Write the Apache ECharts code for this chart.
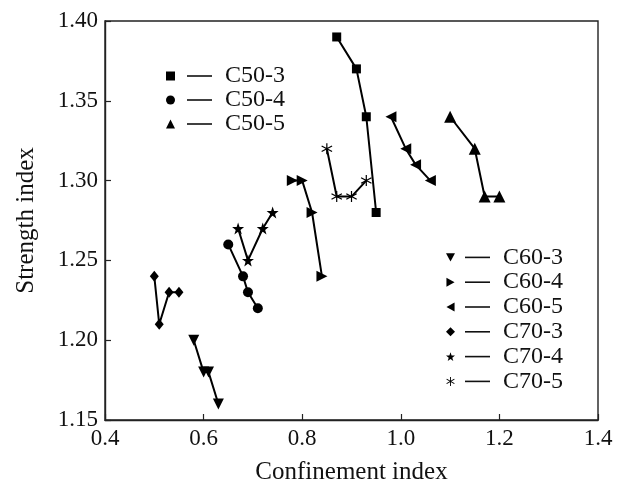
<!DOCTYPE html>
<html>
<head>
<meta charset="utf-8">
<script src="https://cdn.jsdelivr.net/npm/echarts@6/dist/echarts.min.js"></script>
<style>
  html, body { margin: 0; padding: 0; background: #fff; }
  #chart { width: 624px; height: 490px; }
</style>
</head>
<body>
<div id="chart"></div>
<script>
// Confinement index / strength index pairs, one list per specimen group
const seriesNames = ['C50-3', 'C50-4', 'C50-5', 'C60-3', 'C60-4', 'C60-5', 'C70-3', 'C70-4', 'C70-5'];

const c50_3 = [[0.87, 1.39], [0.91, 1.37], [0.93, 1.34], [0.95, 1.28]];
const c50_4 = [[0.65, 1.26], [0.68, 1.24], [0.69, 1.23], [0.71, 1.22]];
const c50_5 = [[1.10, 1.34], [1.15, 1.32], [1.17, 1.29], [1.20, 1.29]];
const c60_3 = [[0.58, 1.20], [0.60, 1.18], [0.61, 1.18], [0.63, 1.16]];
const c60_4 = [[0.78, 1.30], [0.80, 1.30], [0.82, 1.28], [0.84, 1.24]];
const c60_5 = [[0.98, 1.34], [1.01, 1.32], [1.03, 1.31], [1.06, 1.30]];
const c70_3 = [[0.50, 1.24], [0.51, 1.21], [0.53, 1.23], [0.55, 1.23]];
const c70_4 = [[0.67, 1.27], [0.69, 1.25], [0.72, 1.27], [0.74, 1.28]];
const c70_5 = [[0.85, 1.32], [0.87, 1.29], [0.90, 1.29], [0.93, 1.30]];

const seriesData = [c50_3, c50_4, c50_5, c60_3, c60_4, c60_5, c70_3, c70_4, c70_5];

// Marker shapes
const TRI_DOWN = 'path://M0 0L10 0L5 9Z';
const TRI_RIGHT = 'path://M0 0L9 5L0 10Z';
const TRI_LEFT = 'path://M9 0L0 5L9 10Z';
const STAR = 'path://M10 0L12.35 6.76L19.51 6.91L13.8 11.24L15.88 18.09L10 14L4.12 18.09L6.2 11.24L0.49 6.91L7.65 6.76Z';
const ASTERISK = 'path://M9 0H11V20H9Z M0.84 5.87L1.84 4.13L19.16 14.13L18.16 15.87Z M18.16 4.13L19.16 5.87L1.84 15.87L0.84 14.13Z';

const symbols = ['rect', 'circle', 'triangle', TRI_DOWN, TRI_RIGHT, TRI_LEFT, 'diamond', STAR, ASTERISK];
const symbolSizes = [9, 10, 12, 11, 11, 11, [9, 11], 12, 11];

const FONT = '"Liberation Serif", "Times New Roman", serif';
const INK = '#111';

const chart = echarts.init(document.getElementById('chart'), null, { renderer: 'canvas' });

function legendFormatter(name) {
  return '{s1|}{ln|}{s2|}{t|' + name + '}';
}
function legendRich(lead) {
  return {
    s1: { width: lead, height: 2 },
    ln: { width: 25, height: 1.6, backgroundColor: INK, verticalAlign: 'middle' },
    s2: { width: 13, height: 2 },
    t: { fontFamily: FONT, fontSize: 24, color: INK, verticalAlign: 'middle' }
  };
}

const option = {
  animation: false,
  backgroundColor: '#fff',
  grid: {
    left: 105, right: 26, top: 21, bottom: 65,
    show: true, borderColor: '#222', borderWidth: 1.4, backgroundColor: 'transparent'
  },
  legend: [
    {
      orient: 'vertical',
      left: 161, top: 59,
      itemWidth: 9, itemHeight: 9, itemGap: 0,
      data: seriesNames.slice(0, 3).map((n, i) => ({ name: n, icon: symbols[i] })),
      formatter: legendFormatter,
      textStyle: { fontFamily: FONT, fontSize: 24, lineHeight: 23, color: INK, rich: legendRich(7) },
      selectedMode: false
    },
    {
      orient: 'vertical',
      left: 441, top: 240,
      itemWidth: 9, itemHeight: 9, itemGap: 0,
      data: seriesNames.slice(3).map((n, i) => ({ name: n, icon: symbols[i + 3] })),
      formatter: legendFormatter,
      textStyle: { fontFamily: FONT, fontSize: 24, lineHeight: 24.8, color: INK, rich: legendRich(5) },
      selectedMode: false
    }
  ],
  xAxis: {
    type: 'value',
    min: 0.4, max: 1.4, interval: 0.2,
    name: 'Confinement index',
    nameLocation: 'middle', nameGap: 40,
    nameTextStyle: { fontFamily: FONT, fontSize: 25, color: INK },
    axisLine: { show: true, lineStyle: { color: '#222', width: 1.4 } },
    axisTick: { show: true, inside: true, length: 6, lineStyle: { color: '#222', width: 1.2 } },
    axisLabel: { fontFamily: FONT, fontSize: 23, color: INK, margin: 7, formatter: v => v.toFixed(1) },
    splitLine: { show: false }
  },
  yAxis: {
    type: 'value',
    min: 1.15, max: 1.40, interval: 0.05,
    name: 'Strength index',
    nameLocation: 'middle', nameGap: 66,
    nameTextStyle: { fontFamily: FONT, fontSize: 25, color: INK },
    axisLine: { show: true, lineStyle: { color: '#222', width: 1.4 } },
    axisTick: { show: true, inside: true, length: 6, lineStyle: { color: '#222', width: 1.2 } },
    axisLabel: { fontFamily: FONT, fontSize: 23, color: INK, margin: 7, formatter: v => v.toFixed(2) },
    splitLine: { show: false }
  },
  series: seriesNames.map((name, i) => ({
    name: name,
    type: 'line',
    data: seriesData[i],
    symbol: symbols[i],
    symbolSize: symbolSizes[i],
    showAllSymbol: true,
    color: '#000',
    itemStyle: { color: '#000' },
    lineStyle: { color: '#000', width: 2 },
    emphasis: { disabled: true },
    z: 3
  }))
};

chart.setOption(option);
</script>
</body>
</html>
